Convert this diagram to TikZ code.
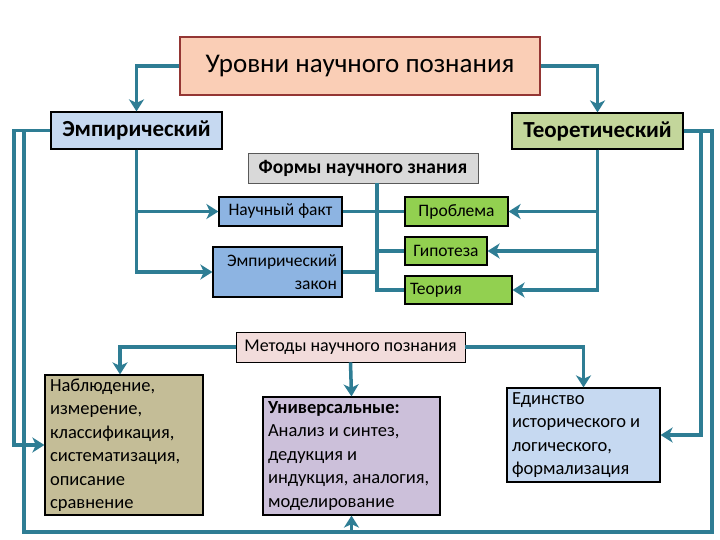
\documentclass[tikz,border=0pt]{standalone}
\usepackage{fontspec}
\setmainfont{Carlito}
\usetikzlibrary{arrows.meta,calc}
\definecolor{teal1}{RGB}{46,125,148}
\definecolor{peach}{RGB}{250,206,182}
\definecolor{dred}{RGB}{148,54,52}
\definecolor{lblue}{RGB}{198,217,241}
\definecolor{lgreen}{RGB}{195,214,155}
\definecolor{lgray}{RGB}{217,217,217}
\definecolor{mblue}{RGB}{141,180,226}
\definecolor{bgreen}{RGB}{146,208,80}
\definecolor{lpink}{RGB}{242,220,219}
\definecolor{khaki}{RGB}{196,189,151}
\definecolor{lav}{RGB}{204,192,218}
\tikzset{
  box/.style={draw=black, line width=1.2pt, inner sep=0pt, minimum width=#1},
  conn/.style={draw=teal1, line width=3.5pt},
  arr/.style={-{Stealth[length=12pt,width=15pt,inset=3.5pt]}},
  txt/.style={font=\fontsize{18.5}{23.5}\selectfont, align=flush left, inner sep=0pt}
}
\begin{document}
\begin{tikzpicture}[x=1pt,y=-1pt]
\useasboundingbox (0,0) rectangle (720,540);
\fill[white] (0,0) rectangle (720,540);
% nodes
\node[box=360pt, minimum height=58pt, fill=peach, draw=dred, line width=2.5pt,
  font=\fontsize{27}{30}\selectfont] (lev) at (360,66) {Уровни научного познания};
\node[box=171pt, minimum height=37pt, fill=lblue, font=\fontsize{23}{26}\bfseries] (emp) at (136.5,130.5) {Эмпирический};
\node[box=171pt, minimum height=36pt, fill=lgreen, font=\fontsize{23}{26}\bfseries] (teo) at (597.5,131) {Теоретический};
\node[box=230pt, minimum height=30pt, fill=lgray, draw=gray!70!black, line width=0.8pt, font=\fontsize{19.5}{22}\bfseries] (form) at (363,168) {Формы научного знания};
\node[box=123pt, minimum height=29pt, fill=mblue, font=\fontsize{17.5}{20}\selectfont] (fact) at (280.5,211.5) {Научный факт};
\node[box=129pt, minimum height=50pt, fill=mblue, font=\fontsize{17.5}{23}\selectfont, align=flush right, text width=119pt] (law) at (277.5,272) {Эмпирический\\закон};
\node[box=103pt, minimum height=29pt, fill=bgreen, font=\fontsize{17.5}{20}\selectfont] (prob) at (456.5,211.5) {Проблема};
\node[box=82pt, minimum height=28pt, fill=bgreen, font=\fontsize{17.5}{20}\selectfont] (hyp) at (446,251) {Гипотеза};
\node[box=107pt, minimum height=28pt, fill=bgreen, font=\fontsize{17.5}{20}\selectfont, text width=97pt, align=flush left] (theo) at (458.5,290) {Теория};
\node[box=229pt, minimum height=30pt, fill=lpink, draw=black, line width=0.8pt, font=\fontsize{18}{21}\selectfont] (meth) at (350.5,347) {Методы научного познания};
\node[box=158pt, minimum height=140pt, fill=khaki, txt, text width=148pt] (obs) at (124,445)
  {Наблюдение,\\измерение,\\классификация,\\систематизация,\\описание\\сравнение};
\node[box=177pt, minimum height=118pt, fill=lav, txt, text width=167pt] (univ) at (351.5,456)
  {\textbf{Универсальные:}\\Анализ и синтез,\\дедукция и\\индукция, аналогия,\\моделирование};
\node[box=153pt, minimum height=94pt, fill=lblue, txt, text width=143pt] (unity) at (583.5,435)
  {Единство\\исторического и\\логического,\\формализация};
% helper coordinates
\coordinate (lo) at (14,0);
\coordinate (li) at (24,0);
\coordinate (ri) at (701,0);
\coordinate (ro) at (712,0);
\coordinate (bot) at (0,532);
\coordinate (fs) at (377,183);
% connectors
\draw[conn,arr] (lev.west) -| (emp.north);
\draw[conn,arr] (lev.east) -| (teo.north);
\draw[conn,arr] (emp.south) |- (fact.west);
\draw[conn,arr] (emp.south) |- (law.west);
\draw[conn,arr] (teo.south) |- (prob.east);
\draw[conn,arr] (teo.south) |- (hyp.east);
\draw[conn,arr] (teo.south) |- (theo.east);
\draw[conn] (fs) |- (theo.west);
\draw[conn] (fs |- hyp.west) -- (hyp.west);
\draw[conn] (fact.east) -- (prob.west);
\draw[conn] (law.east) -- (law.east -| fs);
\draw[conn,arr] (emp.west) -- (emp.west -| lo) |- (obs.west);
\draw[conn] (emp.west -| li) -- (li |- bot) -- (ro |- bot) -- (ro |- teo.east) -- (teo.east);
\draw[conn,arr] (teo.east) -- (teo.east -| ri) |- (unity.east);
\draw[conn,arr] (univ.south |- bot) -- (univ.south);
\draw[conn,arr] (meth.west) -| ([xshift=-4pt]obs.north);
\draw[conn,arr] (meth.east) -| (unity.north);
\draw[conn,arr] (meth.south) -- (univ.north);
\end{tikzpicture}
\end{document}
